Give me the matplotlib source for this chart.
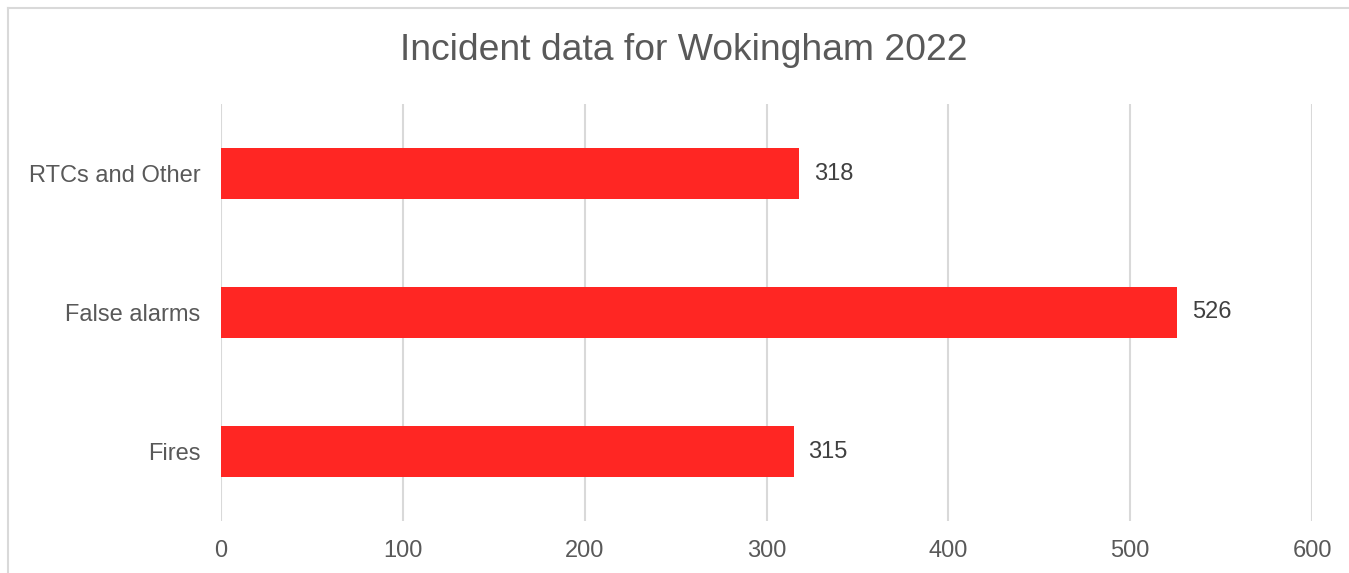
import matplotlib
matplotlib.use("Agg")
import matplotlib.pyplot as plt
from matplotlib.lines import Line2D

categories = ["Fires", "False alarms", "RTCs and Other"]
values = [315, 526, 318]
xticks = [0, 100, 200, 300, 400, 500, 600]
title = "Incident data for Wokingham 2022"

plt.rcParams['font.family'] = ['Liberation Sans', 'DejaVu Sans']
text_col = '#595959'
bar_col = '#FF2623'
grid_col = '#D9D9D9'

W, H = 1349, 573
fig = plt.figure(figsize=(W / 100, H / 100), dpi=100)
ax = fig.add_axes([221 / W, 1 - 521 / H, (1312 - 221) / W, (521 - 104) / H])

ypos = list(range(len(categories)))
ax.barh(ypos, values, height=0.36, color=bar_col, zorder=3)
for y, v in zip(ypos, values):
    ax.annotate(str(v), (v, y), xytext=(10.5, 0), textcoords='offset points',
                va='center', ha='left', fontsize=17, color='#404040')

ax.set_xlim(0, 600)
ax.set_ylim(-0.5, 2.5)
ax.set_xticks(xticks)
ax.set_xticklabels([str(t) for t in xticks])
ax.set_yticks(ypos)
ax.set_yticklabels(categories)
ax.tick_params(axis='both', length=0, labelsize=17, labelcolor=text_col)
ax.tick_params(axis='x', pad=14)
ax.tick_params(axis='y', pad=15)
ax.xaxis.grid(True, color=grid_col, linewidth=1.5, zorder=0)
ax.set_axisbelow(True)
for s in ax.spines.values():
    s.set_visible(False)

fig.text(684 / W, 1 - 51 / H, title, ha='center', va='center', fontsize=26.8, color=text_col)

# light chart-area border (left and top edges visible)
fig.add_artist(Line2D([8 / W, 8 / W], [0, 1 - 8 / H], color=grid_col, linewidth=1.5))
fig.add_artist(Line2D([8 / W, 1], [1 - 8 / H, 1 - 8 / H], color=grid_col, linewidth=1.5))

fig.savefig("out.png", dpi=100)
